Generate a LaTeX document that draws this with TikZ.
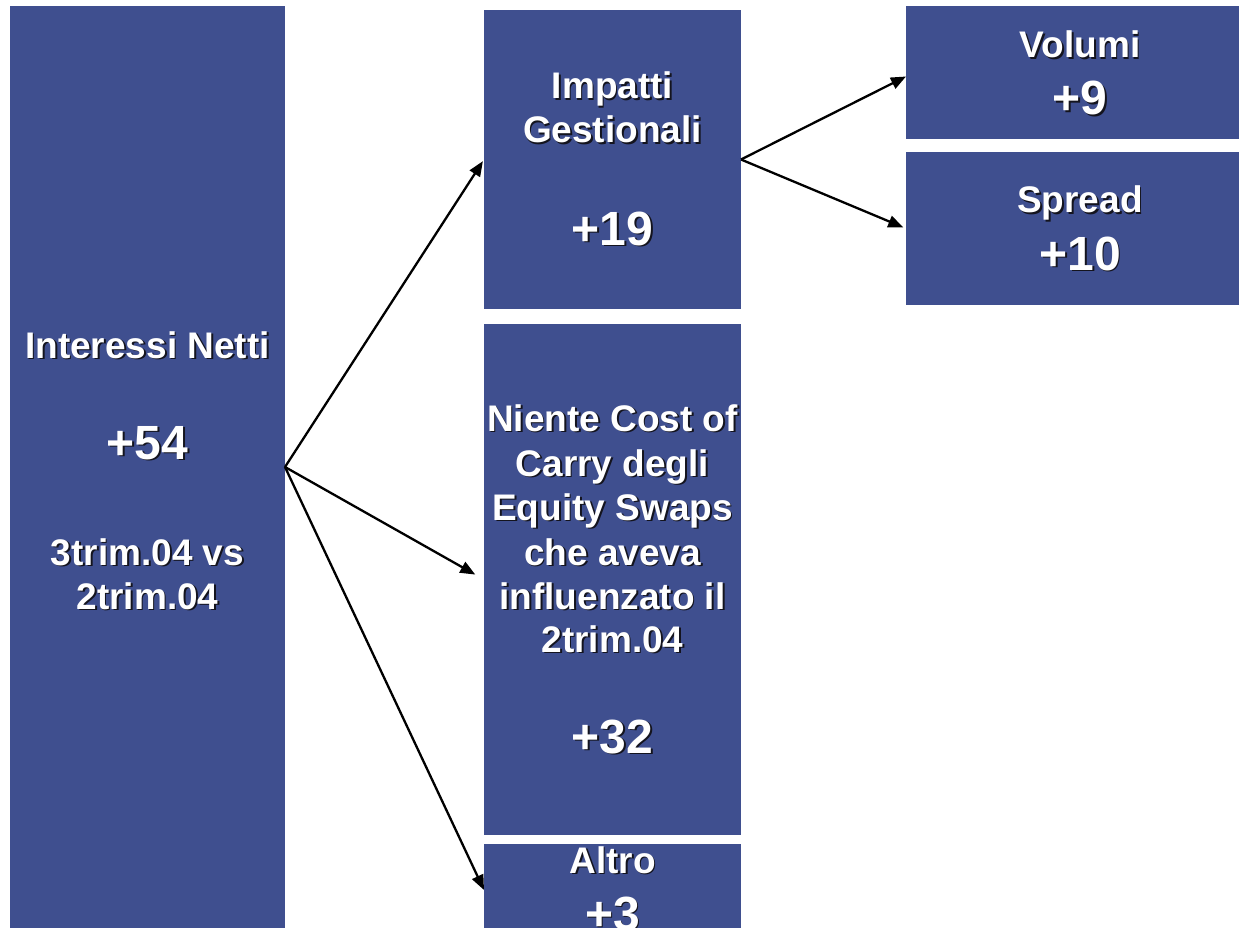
\documentclass[tikz,border=0pt]{standalone}
\usepackage{fontspec}
\setmainfont{Liberation Sans}
\usetikzlibrary{arrows.meta}
\definecolor{boxc}{RGB}{63,79,143}
\definecolor{shadowc}{RGB}{20,20,30}
\newcommand\shd[1]{\rlap{\kern1.8pt\raisebox{-1.8pt}{\textcolor{shadowc}{#1}}}#1}
\newcommand\tline[5]{\node[txt,font=\bfseries\fontsize{#4}{#4}\selectfont] (#1) at (#2,#3) {\shd{#5}};}
\begin{document}
\begin{tikzpicture}[x=1pt,y=-1pt,
  blk/.style={rectangle,fill=boxc,draw=none,inner sep=0pt,outer sep=0pt},
  txt/.style={anchor=base,inner sep=0pt,text=white},
  conn/.style={line width=2.3pt,-{Triangle[length=15pt,width=12pt]}}]
\clip (0,0) rectangle (1239,928);
\fill[white] (0,0) rectangle (1239,928);
% boxes
\node[blk,minimum width=275pt,minimum height=922pt] (L) at (147.5,467) {};
\node[blk,minimum width=257pt,minimum height=299pt] (I) at (612.5,159.5) {};
\node[blk,minimum width=257pt,minimum height=511pt] (N) at (612.5,579.5) {};
\node[blk,minimum width=257pt,minimum height=92pt] (A) at (612.5,890) {};
\node[blk,minimum width=348pt,minimum height=133pt] (V) at (1080,72.5) {};
\node[blk,minimum width=348pt,minimum height=153pt] (S) at (1080,228.5) {};
% texts
\tline{l1}{147.5}{358}{37}{Interessi Netti}
\tline{l2}{147.5}{459}{48}{+54}
\tline{l3}{147.5}{565}{37}{3trim.04 vs}
\tline{l4}{147.5}{609}{37}{2trim.04}
\tline{i1}{612.5}{99}{37}{Impatti}
\tline{i2}{612.5}{143}{37}{Gestionali}
\tline{i3}{612.5}{245}{48}{+19}
\tline{n1}{612.5}{431}{37}{Niente Cost of}
\tline{n2}{612.5}{476}{37}{Carry degli}
\tline{n3}{612.5}{520}{37}{Equity Swaps}
\tline{n4}{612.5}{565}{37}{che aveva}
\tline{n5}{612.5}{609}{37}{influenzato il}
\tline{n6}{612.5}{652}{37}{2trim.04}
\tline{n7}{612.5}{753}{48}{+32}
\tline{a1}{612.5}{873}{37}{Altro}
\tline{a2}{612.5}{930}{48}{+3}
\tline{v1}{1080}{58}{37}{Volumi}
\tline{v2}{1080}{115}{48}{+9}
\tline{s1}{1080}{213}{37}{Spread}
\tline{s2}{1080}{270}{48}{+10}
% connectors
\draw[conn,shorten >=2pt] (L.east) -- (I.west);
\draw[conn,shorten >=10pt] (L.east) -- (N.west);
\draw[conn] (L.east) -- (A.west);
\draw[conn] (I.east) -- ([yshift=-4pt]V.west);
\draw[conn,shorten >=3pt] (I.east) -- (S.west);
\end{tikzpicture}
\end{document}
